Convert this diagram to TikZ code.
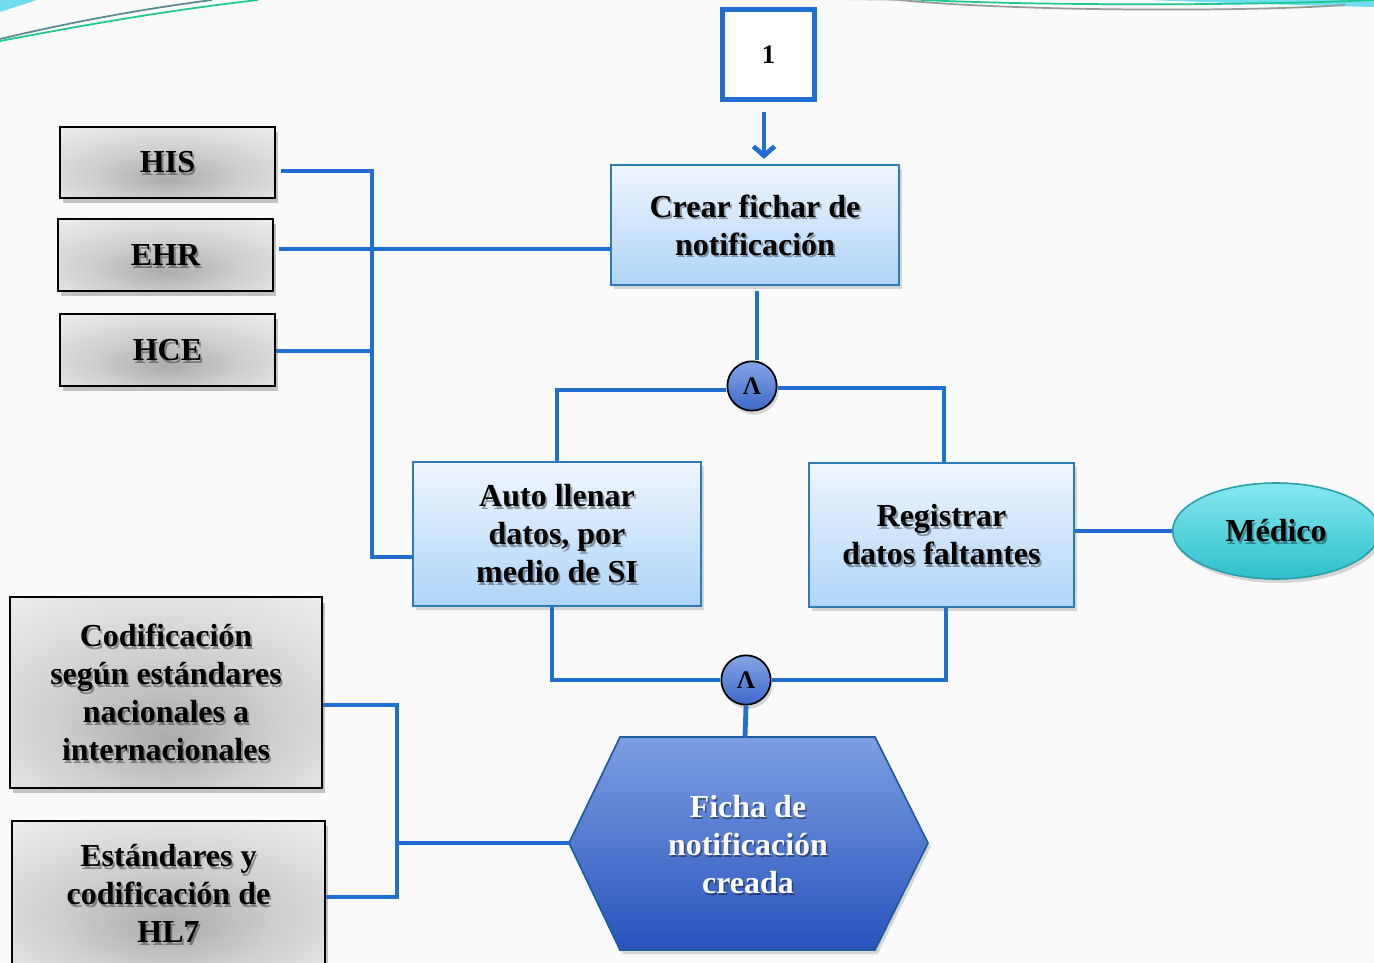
\documentclass[tikz,border=0pt]{standalone}
\usepackage{fontspec}
\setmainfont{Liberation Serif}
\usetikzlibrary{shadows,shapes.geometric,arrows.meta,calc}
\definecolor{lineblue}{HTML}{1E6FCF}
\definecolor{boxedge}{HTML}{2D7BB5}
\definecolor{lbtop}{HTML}{EEF6FE}
\definecolor{lbbot}{HTML}{AFD4F7}
\definecolor{medtop}{HTML}{86E8F0}
\definecolor{medbot}{HTML}{2CC0CC}
\definecolor{mededge}{HTML}{2A9FA8}
\definecolor{andtop}{HTML}{86A5E8}
\definecolor{andbot}{HTML}{3C68C8}
\definecolor{hextop}{HTML}{7D9FE2}
\definecolor{hexbot}{HTML}{2753BC}
\definecolor{hexedge}{HTML}{1F5C9E}
\definecolor{bg}{HTML}{FAFAFA}
\definecolor{decocyan}{HTML}{6FDCEF}
\definecolor{decogreen}{HTML}{19C98E}
\definecolor{decogray}{HTML}{5A8A90}
\definecolor{gin}{HTML}{ABABAB}
\definecolor{gmid}{HTML}{CFCFCF}
\definecolor{gout}{HTML}{F0F0F0}
\pgfdeclareradialshading{grayglow}{\pgfpoint{0bp}{-12bp}}{color(0bp)=(gin); color(18bp)=(gmid); color(40bp)=(gout); color(60bp)=(gout)}
\tikzset{
  lbl/.style={font=\fontsize{24}{28.5}\selectfont\bfseries, align=center, inner sep=0pt},
  tshadow/.style={path picture={\node[lbl, text=black, opacity=0.35] at ([xshift=1.4pt,yshift=-2pt]path picture bounding box.center) {#1};}},
  graybox/.style={lbl, draw=black, line width=1.5pt, shading=grayglow,
    drop shadow={opacity=0.45, shadow xshift=2pt, shadow yshift=-4pt}},
  bluebox/.style={lbl, draw=boxedge, line width=1.2pt, top color=lbtop, bottom color=lbbot,
    drop shadow={opacity=0.3, shadow xshift=2pt, shadow yshift=-3pt}},
  andnode/.style={circle, draw=black, line width=1.3pt, top color=andtop, bottom color=andbot,
    minimum size=37pt, inner sep=0pt, font=\fontsize{19}{20}\selectfont\bfseries,
    drop shadow={opacity=0.3, shadow xshift=1.5pt, shadow yshift=-3pt}},
  conn/.style={draw=lineblue, line width=3.6pt},
}
\begin{document}
\begin{tikzpicture}[x=0.75pt,y=-0.75pt]
\useasboundingbox (0,0) rectangle (1374,963);
\clip (0,0) rectangle (1374,963);
\fill[bg] (0,0) rectangle (1374,963);
% top decorations
\fill[decocyan] (0,0) -- (37,0) -- (0,12) -- cycle;
\draw[decogray, line width=1.3pt] (0,39) .. controls (80,20) and (150,8) .. (212,0);
\draw[decogreen, line width=1.3pt] (0,41) .. controls (90,24) and (170,10) .. (258,0);
\fill[decocyan] (1150,0) -- (1374,0) -- (1374,7) -- (1330,6) .. controls (1260,4) and (1200,2) .. (1150,0);
\draw[decogreen, line width=1.3pt] (890,-2) .. controls (1000,6) and (1250,6) .. (1374,0);
\draw[gray!80, line width=1.3pt] (880,-2) .. controls (1000,12) and (1250,12) .. (1345,5);
\draw[gray!60, line width=1pt] (820,-1) -- (900,0);

% nodes
\node[draw=lineblue, line width=3.75pt, fill=white, minimum width=69pt, minimum height=67pt,
      font=\fontsize{20}{22}\selectfont\bfseries, inner sep=0pt] (one) at (768.5,54.5) {1};
\node[bluebox, minimum width=216pt, minimum height=90pt, tshadow={Crear fichar de\\notificación}] (crear) at (755,225) {Crear fichar de\\notificación};
\node[graybox, minimum width=161pt, minimum height=53pt, tshadow={HIS}] (his) at (167.5,162.5) {HIS};
\node[graybox, minimum width=161pt, minimum height=54pt, tshadow={EHR}] (ehr) at (165.5,255) {EHR};
\node[graybox, minimum width=161pt, minimum height=54pt, tshadow={HCE}] (hce) at (167.5,350) {HCE};
\node[bluebox, minimum width=216pt, minimum height=108pt, tshadow={Auto llenar\\datos, por\\medio de SI}] (auto) at (557,534) {Auto llenar\\datos, por\\medio de SI};
\node[bluebox, minimum width=199pt, minimum height=108pt, tshadow={Registrar\\datos faltantes}] (reg) at (941.5,535) {Registrar\\datos faltantes};
\node[ellipse, lbl, draw=mededge, line width=1.2pt, top color=medtop, bottom color=medbot,
      minimum width=155pt, minimum height=72pt, tshadow={Médico},
      drop shadow={opacity=0.3, shadow xshift=2pt, shadow yshift=-3pt}] (medico) at (1276,531) {Médico};
\node[andnode] (and1) at (752,386) {Λ};
\node[andnode] (and2) at (746,680) {Λ};
\node[graybox, minimum width=234pt, minimum height=143pt, tshadow={Codificación\\según estándares\\nacionales a\\internacionales}] (codif) at (166,692.5) {Codificación\\según estándares\\nacionales a\\internacionales};
\node[graybox, minimum width=235pt, minimum height=109pt, tshadow={Estándares y\\codificación de\\HL7}] (estand) at (168.5,893.5) {Estándares y\\codificación de\\HL7};

% hexagon
\coordinate (fichaT) at (745,737);
\coordinate (fichaL) at (569,843);
\path[drop shadow={opacity=0.3, shadow xshift=2pt, shadow yshift=-3pt}, top color=hextop, bottom color=hexbot, draw=hexedge, line width=1.3pt]
  (620,737) -- (875,737) -- (928,843) -- (875,950) -- (620,950) -- (fichaL) -- cycle;
\node[lbl, text=black, opacity=0.4] at (749.5,847) {Ficha de\\notificación\\creada};
\node[lbl, text=white] (ficha) at (748,845) {Ficha de\\notificación\\creada};

% connectors
\coordinate (busA) at (372,171);
\coordinate (busB) at (372,557);
\coordinate (ehrY) at (0,249);
\coordinate (busC) at (397,705);
\coordinate (busD) at (397,897);
\coordinate (r1) at (944,388);
\coordinate (r2) at (946,680);
\coordinate (l2) at (552,680);
\draw[conn] ([xshift=4pt]his.east|-busA) -- (busA) -- (busB) -- (auto.west|-busB);
\draw[conn] ([xshift=4pt]ehr.east|-ehrY) -- (crear.west|-ehrY);
\draw[conn] (hce.east|-0,351) -- (busA|-0,351);
\draw[conn, -{Straight Barb[length=7pt,width=16pt,line width=3.6pt]}, shorten >=4pt] ([yshift=-8pt]one.south-|764,0) -- (crear.north-|764,0);
\draw[conn] ([yshift=-4pt]crear.south-|757,0) -- (and1.north-|757,0);
\draw[conn] (and1.west|-0,390) -- (auto.north|-0,390) -- (auto.north);
\draw[conn] (and1.east|-r1) -- (r1) -- (reg.north-|r1);
\draw[conn] (auto.south-|l2) -- (l2) -- (and2.west);
\draw[conn] (reg.south-|r2) -- (r2) -- (and2.east);
\draw[conn] (and2.south) -- (fichaT);
\draw[conn] (reg.east|-medico.west) -- (medico.west);
\draw[conn] (codif.east|-busC) -- (busC) -- (busD) -- (estand.east|-busD);
\draw[conn] (busC|-fichaL) -- (fichaL);
\end{tikzpicture}
\end{document}
